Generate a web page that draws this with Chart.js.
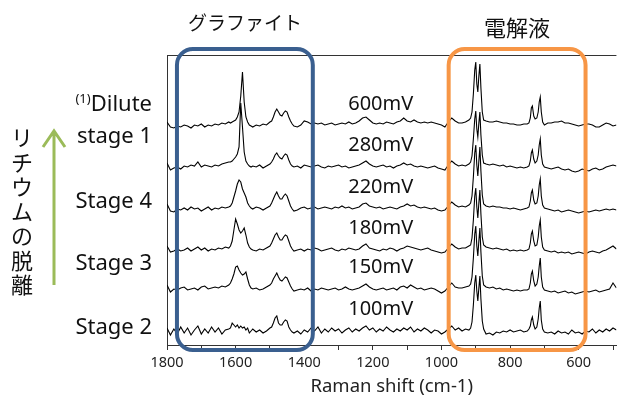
<!DOCTYPE html>
<html>
<head>
<meta charset="utf-8">
<script src="https://cdn.jsdelivr.net/npm/chart.js@4.4.1/dist/chart.umd.min.js"></script>
<style>
  html, body { margin: 0; padding: 0; background: #fff; }
  canvas { display: block; }
</style>
</head>
<body>
<canvas id="ramanChart" width="617" height="398"></canvas>
<script>
// Raman shift grid (cm-1), denser around the peaks
const wavenumbers = [
  1800, 1790, 1780, 1770, 1760, 1750, 1740, 1730, 1720, 1710, 1700, 1690, 1680, 1670, 1660, 1650, 1640, 1630, 1620,
  1615, 1610, 1605, 1600, 1595, 1590, 1585, 1580, 1575, 1570, 1565, 1560, 1555,
  1550, 1540, 1530, 1520, 1510, 1500,
  1495, 1490, 1485, 1480, 1475, 1470, 1465, 1460, 1455, 1450, 1445, 1440, 1435,
  1430, 1420, 1410, 1400, 1390, 1380, 1370, 1360, 1350, 1340, 1330, 1320, 1310, 1300, 1290, 1280, 1270, 1260, 1250, 1240,
  1230, 1220, 1210, 1200, 1190, 1180, 1170, 1160, 1150, 1140, 1130, 1120, 1110, 1100, 1090, 1080, 1070, 1060, 1050, 1040,
  1030, 1020, 1010,
  1000, 990, 980, 970, 960, 950, 940, 930, 920,
  915, 911, 907, 903, 900, 897, 894, 891, 888, 885, 881, 877,
  870, 860, 850, 840, 830, 820, 810, 800, 790, 780, 770, 760, 750,
  745, 741, 738, 735, 731, 727, 722, 718, 715, 712, 709, 705, 700,
  690, 680, 670, 660, 650, 640, 630, 620, 610, 600, 590, 580, 570, 560, 550, 540, 530, 520, 510, 500, 490
];

// intensities relative to each trace's own baseline
const s600 = [
  4, -1, -2, 0, -1, 1, 0, -2, 1, 0, 2, -1, 1, 0, 2, 1, 3, 2, 4,
  3, 4, 5, 6, 9, 14, 30, 54, 24, 9, 4, 1, 0,
  -1, 1, 0, 2, 1, 4,
  5, 9, 14, 17, 14, 11, 10, 13, 15, 14, 9, 5, 2,
  0, -1, 1, 5, 4, 2, 3, 2, 3, 1, 2, 3, 1, 2, 3, 2, 4, 2, 3, 5,
  8, 9, 6, 3, 2, 3, 2, 4, 3, 2, 4, 5, 8, 5, 4, 6, 4, 3, 4, 3,
  4, 3, 2,
  1, -1, 4, 8, 5, 3, 3, 4, 6,
  8, 14, 32, 56, 64, 42, 34, 50, 62, 38, 14, 6,
  5, 4, 4, 5, 4, 3, 3, 2, 2, 1, 1, 2, 2,
  3, 8, 18, 20, 10, 7, 8, 14, 24, 29, 14, 4, 1,
  3, 3, 4, 4, 5, 3, 3, 2, 1, 0, 1, 2, 2, 1, -1, -1, 1, 3, 2, 0, 1
];
const s280 = [
  4, -3, -1, 0, -2, 1, 0, 2, 1, 5, 0, 2, 1, 0, 2, 1, 3, 4, 5,
  5, 6, 8, 10, 13, 20, 64, 40, 15, 6, 3, 1, 0,
  1, 0, 2, -1, 1, 3,
  5, 8, 12, 14, 11, 9, 8, 11, 13, 12, 7, 3, 1,
  0, 1, -1, 2, 1, 0, 1, 2, 0, -1, 1, 0, 1, 2, 0, 1, -1, 0, 1, 2,
  4, 6, 3, 1, 0, 1, 2, 0, 1, -1, 1, 2, 4, 2, 3, 1, 0, 1, 0, -1,
  0, 1, -1,
  -2, -3, 2, 6, 3, 1, 2, 1, 3,
  5, 11, 28, 48, 56, 38, 30, 44, 55, 32, 12, 4,
  3, 2, 3, 2, 1, 2, 0, 1, 0, -1, 0, -1, 0,
  1, 6, 14, 17, 8, 4, 6, 12, 22, 28, 12, 3, 0,
  -1, -2, -1, 0, -2, -3, -2, -4, -5, -4, -2, -3, -4, -2, -1, -3, -2, 0, 1, 2, 1
];
const s220 = [
  5, -2, -3, 0, -1, 1, -1, 2, 0, 1, -2, 0, 2, -1, 1, 0, 2, 1, 2,
  3, 6, 12, 18, 25, 29, 27, 20, 16, 12, 6, 3, 1,
  0, 2, 1, -1, 1, 3,
  6, 10, 14, 17, 13, 10, 10, 13, 15, 13, 8, 3, 0,
  -2, -1, 1, 2, 0, 1, 2, 0, 1, 2, 1, 0, 2, 1, 3, 1, 2, 0, 1, 2,
  5, 6, 3, 2, 1, 2, 0, 1, 2, 1, 0, 2, 3, 5, 3, 4, 2, 1, 2, 1,
  0, 1, -1,
  -2, -1, 3, 7, 4, 2, 3, 2, 4,
  6, 13, 32, 56, 64, 44, 33, 48, 62, 38, 14, 5,
  3, 2, 3, 2, 2, 1, 1, 0, 1, 0, -1, 0, 1,
  2, 8, 16, 19, 9, 5, 6, 13, 24, 30, 13, 4, 1,
  0, -1, -2, -1, -3, -2, -1, -2, -3, -4, -3, -2, -3, -2, -1, -2, -1, 0, -1, 0, -1
];
const s180 = [
  4, -2, -1, 1, -1, 0, 2, -1, 1, 3, 0, 2, -1, 1, 0, 2, 1, 3, 2,
  4, 9, 20, 31, 26, 20, 17, 19, 22, 15, 7, 3, 1,
  0, -1, 1, 0, 2, 4,
  7, 11, 15, 17, 13, 10, 10, 13, 15, 14, 9, 4, 1,
  -1, 0, 1, -1, 1, 0, 2, 1, -1, 0, 1, 2, 0, -1, 1, 0, 2, 1, 0, 1,
  4, 6, 2, 1, 0, -1, 1, 0, 2, 1, -1, 1, 2, 4, 3, 2, 1, 0, 1, 2,
  0, -1, -2,
  -3, -2, 2, 6, 3, 1, 2, 2, 4,
  5, 12, 30, 54, 62, 43, 32, 47, 60, 36, 13, 5,
  3, 2, 1, 2, 1, 0, 1, -1, 0, -1, 0, -1, 0,
  1, 7, 16, 19, 9, 4, 5, 13, 24, 30, 13, 3, 0,
  -1, -2, -1, -3, -2, -3, -2, -4, -3, -2, -3, -4, -2, -1, -2, -3, -1, 0, 2, 4, 1
];
const s150 = [
  4, -3, 0, -1, 1, 2, -1, 0, 1, -1, 2, 3, 0, 1, 2, 1, 3, 2, 4,
  6, 10, 15, 22, 23, 19, 16, 14, 15, 17, 10, 4, 1,
  0, 1, -1, 0, 2, 4,
  6, 10, 13, 16, 12, 9, 8, 10, 12, 11, 7, 3, 0,
  -2, -1, 0, -1, 1, -2, 0, -1, 1, 0, -1, 0, 1, -1, 0, 2, 0, -1, 0, 1,
  3, 5, 2, 0, -1, 0, 1, -1, 0, 1, -1, 2, 3, 1, 4, 2, 0, 1, -1, 0,
  1, 0, -2,
  -4, -2, 2, 6, 2, 1, 1, 2, 3,
  5, 12, 31, 55, 63, 43, 33, 48, 61, 37, 13, 4,
  2, 1, 2, 0, 1, -1, 0, -1, -2, -1, -2, -1, -1,
  0, 6, 15, 18, 8, 3, 5, 12, 23, 31, 12, 2, -1,
  -2, -3, -2, -4, -3, -2, -4, -3, -5, -4, -3, -2, -3, -2, -1, -3, -2, -1, 0, 6, 1
];
const s100 = [
  3, -4, 2, -3, 4, -2, 3, -4, 1, 5, -3, 2, -2, 4, -1, 3, -3, 1, 2,
  3, 8, 6, 4, 6, 3, 5, 3, 4, 1, 3, -2, 0,
  2, -1, 1, -2, 0, 3,
  4, 8, 13, 15, 8, 6, 6, 9, 11, 10, 4, 1, -1,
  -2, 0, -3, 1, -1, 3, 0, 4, -2, 2, -1, 3, 0, 2, -2, 1, 3, -1, 2, 0,
  3, 5, 1, 3, -1, 2, 0, 4, 1, -1, 2, 0, 3, 1, 4, -1, 2, 0, 3, 1,
  -2, 1, 0,
  -3, -1, 2, 5, 1, 3, 0, 2, 1,
  3, 9, 26, 48, 56, 40, 30, 43, 55, 32, 10, 2,
  -3, -2, -4, -1, -2, 0, -1, 1, -1, 0, 1, -1, 0,
  2, 5, 11, 14, 6, 2, 4, 12, 23, 30, 11, 2, -1,
  -2, -1, -3, 0, -2, -1, -3, 1, -2, -1, -3, 0, -1, 2, -2, 1, -1, 2, 0, 3, 1
];

const spectra = [s600, s280, s220, s180, s150, s100];
const voltageLabels = ['600mV', '280mV', '220mV', '180mV', '150mV', '100mV'];
const offsets = [219, 178, 136, 95, 56, 14]; // vertical stacking offset of each trace
const stageLabels = ['Dilute', 'stage 1', 'Stage 4', 'Stage 3', 'Stage 2'];
const stageLabelY = [105, 137, 202, 264, 328];
const xTickValues = [1800, 1700, 1600, 1500, 1400, 1300, 1200, 1100, 1000, 900, 800, 700, 600, 500];
const graphiteRange = [1771, 1375];
const electrolyteRange = [979, 580];
const arrowText = 'リチウムの脱離';

const latinFont = '"Noto Sans", "Open Sans", sans-serif';
const cjkFont = '"Noto Sans CJK JP", "Noto Sans CJK SC", sans-serif';

// Draws the frame top line, highlight boxes and all the text annotations
const annotations = {
    id: 'annotations',
    afterDraw(chart) {
        const { ctx, chartArea: area, scales: { x, y } } = chart;
        ctx.save();

        // top frame line
        ctx.strokeStyle = '#333';
        ctx.lineWidth = 1;
        ctx.beginPath();
        ctx.moveTo(area.left, area.top + 0.5);
        ctx.lineTo(area.right, area.top + 0.5);
        ctx.stroke();

        // rounded boxes
        const drawBox = (range, color) => {
            const left = x.getPixelForValue(range[0]);
            const right = x.getPixelForValue(range[1]);
            ctx.strokeStyle = color;
            ctx.lineWidth = 4;
            ctx.beginPath();
            ctx.roundRect(left, area.top - 6, right - left, area.bottom - area.top + 11, 16);
            ctx.stroke();
            return (left + right) / 2;
        };
        const gCenter = drawBox(graphiteRange, '#3a5f8f');
        const eCenter = drawBox(electrolyteRange, '#f79646');

        ctx.fillStyle = '#111';
        ctx.textAlign = 'center';
        ctx.textBaseline = 'middle';
        ctx.font = `19px ${cjkFont}`;
        ctx.fillText('グラファイト', gCenter, 23);
        ctx.font = `22px ${cjkFont}`;
        ctx.fillText('電解液', eCenter, 28);

        // voltage labels above each trace
        ctx.font = `20px ${latinFont}`;
        voltageLabels.forEach((label, i) => {
            ctx.fillText(label, x.getPixelForValue(1177), y.getPixelForValue(offsets[i]) - 22);
        });

        // stage labels on the left
        ctx.textAlign = 'right';
        ctx.font = `22px ${latinFont}`;
        stageLabels.forEach((label, i) => {
            ctx.fillText(label, 152, stageLabelY[i]);
        });
        const diluteWidth = ctx.measureText(stageLabels[0]).width;
        ctx.font = `13px ${latinFont}`;
        ctx.fillText('(1)', 152 - diluteWidth, 99);

        // green arrow
        ctx.strokeStyle = '#9bbb59';
        ctx.lineWidth = 3;
        ctx.beginPath();
        ctx.moveTo(54, 285);
        ctx.lineTo(54, 131);
        ctx.moveTo(43, 147);
        ctx.lineTo(54, 131);
        ctx.lineTo(65, 147);
        ctx.stroke();

        // vertical Japanese text
        ctx.fillStyle = '#111';
        ctx.textAlign = 'center';
        ctx.font = `22px ${cjkFont}`;
        [...arrowText].forEach((ch, i) => {
            ctx.fillText(ch, 22, 138 + i * 24.5);
        });

        ctx.restore();
    }
};

const ctx = document.getElementById('ramanChart').getContext('2d');
new Chart(ctx, {
    type: 'line',
    data: {
        datasets: spectra.map((values, i) => ({
            label: voltageLabels[i],
            data: wavenumbers.map((w, j) => ({ x: w, y: values[j] + offsets[i] })),
            borderColor: '#000',
            borderWidth: 1.1,
            pointRadius: 0,
            tension: 0,
            fill: false,
        }))
    },
    options: {
        responsive: false,
        animation: false,
        devicePixelRatio: 1,
        layout: { padding: { left: 167, top: 55, right: 0, bottom: 0 } },
        plugins: {
            legend: { display: false },
            tooltip: { enabled: false },
        },
        scales: {
            x: {
                type: 'linear',
                reverse: true,
                min: 490,
                max: 1800,
                afterFit: (scale) => { scale.height = 53; },
                afterBuildTicks: (scale) => {
                    scale.ticks = xTickValues.map(v => ({ value: v }));
                },
                ticks: {
                    autoSkip: false,
                    maxRotation: 0,
                    padding: 4,
                    color: '#222',
                    font: { family: latinFont, size: 14.5 },
                    callback: (value) => (Math.round(value) % 200 === 0 ? String(Math.round(value)) : ''),
                },
                grid: { drawOnChartArea: false, drawTicks: true, tickLength: 5, color: '#333' },
                border: { color: '#333' },
                title: {
                    display: true,
                    text: 'Raman shift (cm-1)',
                    color: '#222',
                    font: { family: latinFont, size: 18.5 },
                    padding: { top: 0, bottom: 0 },
                },
            },
            y: {
                min: 0,
                max: 290,
                afterFit: (scale) => { scale.width = 0; },
                ticks: { display: false },
                grid: { display: false },
                border: { display: true, color: '#333' },
            }
        }
    },
    plugins: [annotations]
});
</script>
</body>
</html>
